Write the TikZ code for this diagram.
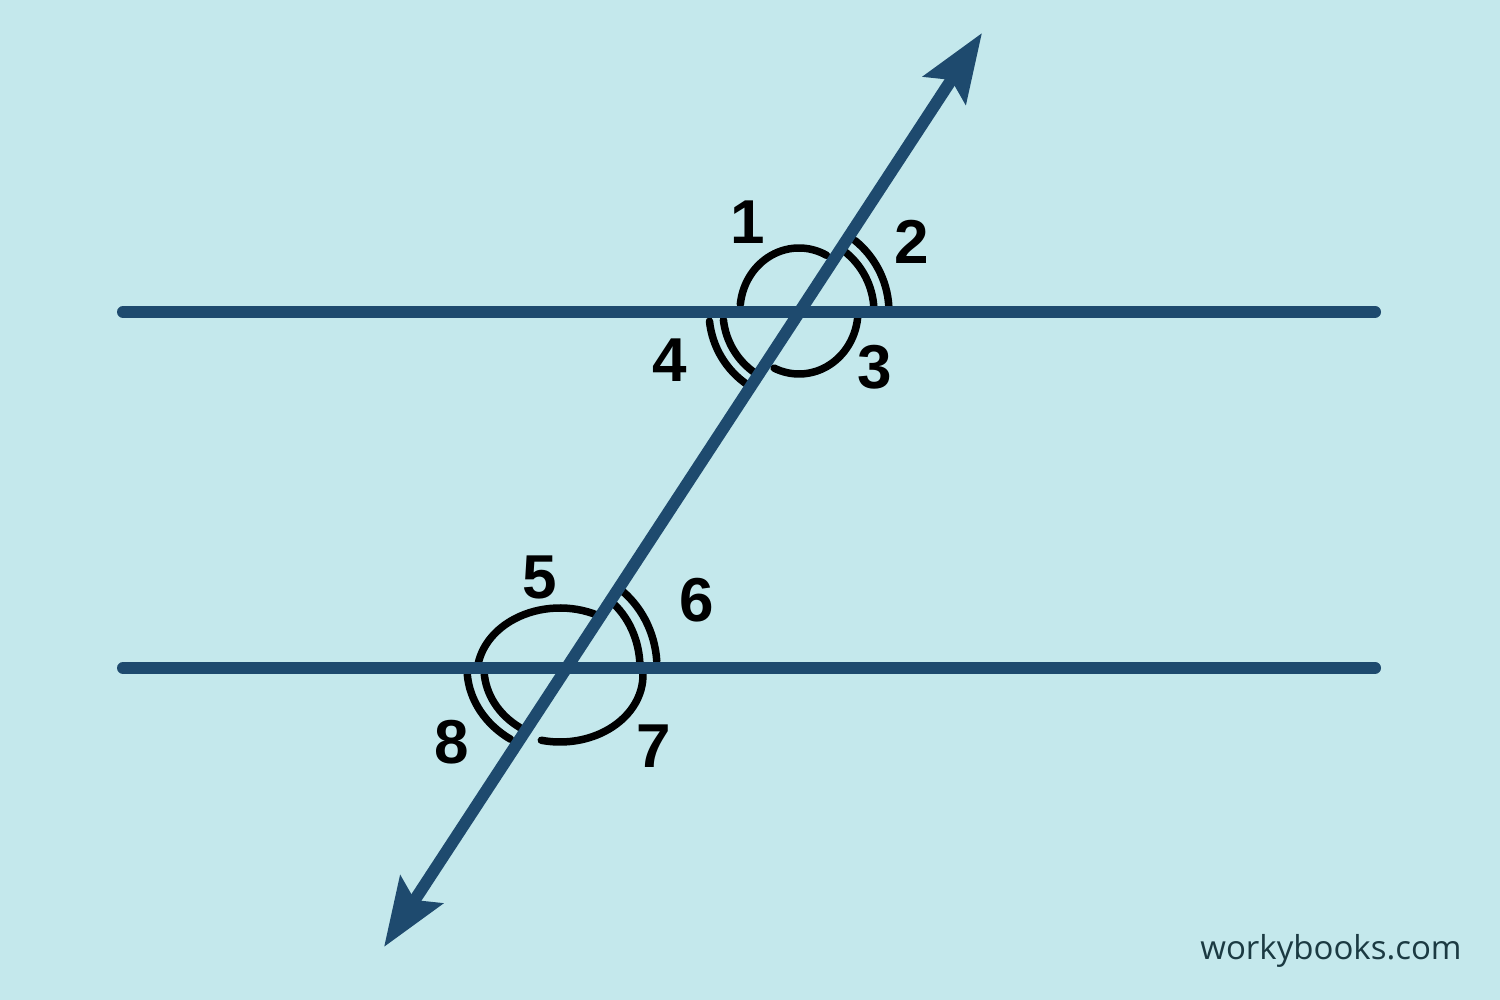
\documentclass[tikz,border=0pt]{standalone}
\usepackage{fontspec}
\setmainfont{Liberation Sans}
\newfontfamily\wmfont{Open Sans}
\usetikzlibrary{arrows.meta}
\definecolor{bgc}{RGB}{196,232,236}
\definecolor{navy}{RGB}{30,74,110}
\definecolor{wmc}{RGB}{27,58,66}
\begin{document}
\begin{tikzpicture}[x=1pt,y=1pt,
  ln/.style={navy, line width=12pt, line cap=round},
  mk/.style={black, line width=7.5pt, line cap=round},
  lbl/.style={font=\fontsize{62}{62}\selectfont\bfseries, text=black, inner sep=0pt},
  >={Stealth[length=68pt,width=50pt,inset=12pt]}]
\fill[bgc] (0,0) rectangle (1500,1000);
\useasboundingbox (0,0) rectangle (1500,1000);
% coordinates
\coordinate (L1) at (123,688); \coordinate (R1) at (1375,688);
\coordinate (L2) at (123,332); \coordinate (R2) at (1375,332);
\coordinate (P) at (384,53); \coordinate (Q) at (982,967);
\coordinate (T) at (797,688); \coordinate (B) at (566,332);
\coordinate (C1) at (799,689); \coordinate (C2) at (560,325);
% angle marks, top
\draw[mk] ([shift={(62:59 and 63)}]C1) arc[start angle=62, end angle=174, x radius=59, y radius=63];
\draw[mk] ([shift={(-2:59 and 63)}]C1) arc[start angle=-2, end angle=-115, x radius=59, y radius=63];
\draw[mk] ([shift={(4:92)}]T) arc[start angle=4, end angle=51, radius=92];
\draw[mk] ([shift={(2:77)}]T) arc[start angle=2, end angle=52, radius=77];
\draw[mk] ([shift={(186:88)}]T) arc[start angle=186, end angle=236, radius=88];
\draw[mk] ([shift={(186:74)}]T) arc[start angle=186, end angle=236, radius=74];
% angle marks, bottom
\draw[mk] ([shift={(63:83 and 67)}]C2) arc[start angle=63, end angle=170, x radius=83, y radius=67];
\draw[mk] ([shift={(2:83 and 67)}]C2) arc[start angle=2, end angle=-103, x radius=83, y radius=67];
\draw[mk] ([shift={(4:91 and 98)}]B) arc[start angle=4, end angle=55, x radius=91, y radius=98];
\draw[mk] ([shift={(2:74 and 84)}]B) arc[start angle=2, end angle=53, x radius=74, y radius=84];
\draw[mk] ([shift={(184:99 and 86)}]B) arc[start angle=184, end angle=236, x radius=99, y radius=86];
\draw[mk] ([shift={(183:82 and 72)}]B) arc[start angle=183, end angle=236, x radius=82, y radius=72];
% lines
\draw[ln] (L1) -- (R1);
\draw[ln] (L2) -- (R2);
\draw[navy, line width=12pt, <->] (P) -- (Q);
% labels
\node[lbl] (n1) at (748,778) {1};
\node[lbl] (n2) at (912,758) {2};
\node[lbl] (n3) at (875,633) {3};
\node[lbl] (n4) at (670,640) {4};
\node[lbl] (n5) at (540,423) {5};
\node[lbl] (n6) at (697,400) {6};
\node[lbl] (n7) at (654,254) {7};
\node[lbl] (n8) at (452,258) {8};
\node[font=\wmfont\fontsize{33}{33}\selectfont, text=wmc, inner sep=0pt] (wm) at (1331,49) {workybooks.com};
\end{tikzpicture}
\end{document}
